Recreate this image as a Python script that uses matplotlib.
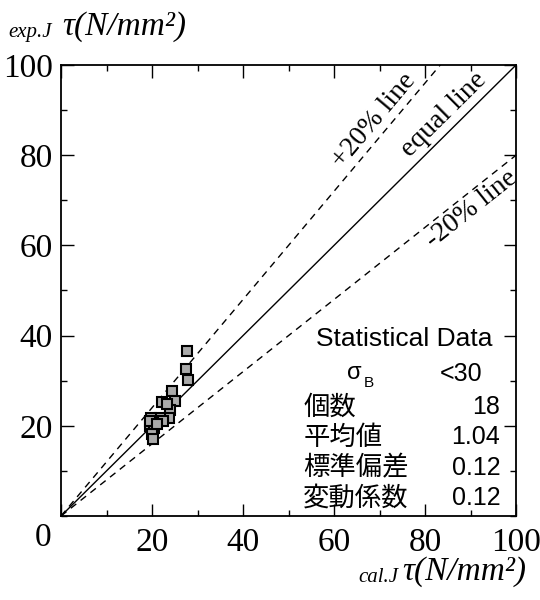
import numpy as np
import matplotlib
matplotlib.use("Agg")
import matplotlib.pyplot as plt
from matplotlib.ticker import MultipleLocator

# data
cal_tau = [27.7, 27.4, 27.8, 24.3, 25.0, 22.2, 24.0, 23.8, 21.7,
           19.8, 19.5, 20.5, 20.0, 20.3, 22.5, 23.2, 19.6, 21.0]
exp_tau = [36.5, 32.5, 30.2, 27.8, 25.5, 25.3, 23.5, 21.8, 21.8,
           21.7, 20.0, 19.5, 18.2, 17.0, 21.0, 24.8, 21.0, 20.5]

stat_labels = ["個数", "平均値", "標準偏差", "変動係数"]
stat_values = ["18", "1.04", "0.12", "0.12"]
sigma_range = "<30"

serif = "Liberation Serif"
sans = "Liberation Sans"
cjk = ["Noto Sans CJK JP", "DejaVu Sans"]

fig = plt.figure(figsize=(5.4, 6.0), dpi=100)
ax = fig.add_axes([0.113, 0.14, 0.843, 0.752])
ax.set_xlim(0, 100)
ax.set_ylim(0, 100)

# reference lines
xs = np.array([0, 100])
ax.plot(xs, xs, color="black", lw=1.0)
ax.plot(xs, 1.2 * xs, color="black", lw=1.0, ls=(0, (5, 4)))
ax.plot(xs, 0.8 * xs, color="black", lw=1.0, ls=(0, (5, 4)))

# data points
ax.plot(cal_tau, exp_tau, ls="none", marker="s", markersize=7,
        markerfacecolor="#aaaaaa", markeredgecolor="black", markeredgewidth=1.5)

# line labels
kw = dict(family=serif, fontsize=20, ha="center",
          rotation_mode="anchor", transform_rotates_text=True)
ax.text(70.8, 85.8, "+20% line", rotation=np.degrees(np.arctan(1.2)),
        va="bottom", **kw)
ax.text(86.0, 87.0, "equal line", rotation=45, va="bottom", **kw)
ax.text(88.5, 70.3, "-20% line", rotation=np.degrees(np.arctan(0.8)),
        va="top", **kw)

# statistics block
ax.text(94.7, 39.2, "Statistical Data", family=sans, fontsize=19,
        ha="right", va="center")
ax.text(62.9, 31.7, "σ", family=sans, fontsize=17, ha="left", va="center")
ax.text(66.4, 29.4, "B", family=sans, fontsize=11, ha="left", va="center")
ax.text(92.5, 31.5, sigma_range, family=sans, fontsize=18, ha="right", va="center")
row_y = [24.2, 17.5, 10.6, 4.0]
for lab, val, yy in zip(stat_labels, stat_values, row_y):
    ax.text(53.2, yy, lab, family=cjk, fontsize=19, ha="left", va="center")
    ax.text(96.5, yy, val, family=sans, fontsize=18, ha="right", va="center")

# ticks
ax.xaxis.set_major_locator(MultipleLocator(20))
ax.yaxis.set_major_locator(MultipleLocator(20))
ax.xaxis.set_minor_locator(MultipleLocator(10))
ax.yaxis.set_minor_locator(MultipleLocator(10))
ax.tick_params(which="both", direction="in", top=True, right=True)
ax.tick_params(which="major", length=9, width=1.0, labelsize=24)
ax.tick_params(axis="x", which="major", pad=8)
ax.tick_params(axis="y", which="major", pad=6)
ax.tick_params(which="minor", length=4, width=1.0)
ax.set_xticks([0, 20, 40, 60, 80, 100], ["", "20", "40", "60", "80", "100"])
ax.set_yticks([20, 40, 60, 80, 100])
for lab in ax.get_xticklabels() + ax.get_yticklabels():
    lab.set_family(serif)
for s in ax.spines.values():
    s.set_linewidth(1.3)
# shared origin label
ax.text(-4.0, -4.9, "0", family=serif, fontsize=24, ha="center", va="center",
        clip_on=False)

# axis titles
fig.text(0.015, 0.938, "exp.J", family=serif, style="italic", fontsize=15,
         ha="left", va="baseline")
fig.text(0.115, 0.942, "τ(N/mm²)", family=serif, style="italic", fontsize=24,
         ha="left", va="baseline")
fig.text(0.663, 0.030, "cal.J", family=serif, style="italic", fontsize=15,
         ha="left", va="baseline")
fig.text(0.745, 0.034, "τ(N/mm²)", family=serif, style="italic", fontsize=24,
         ha="left", va="baseline")

fig.savefig("out.png", dpi=100)
